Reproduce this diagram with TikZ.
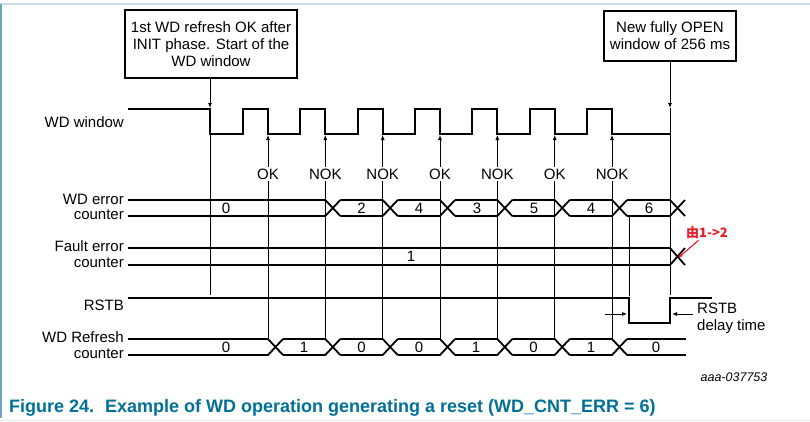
\documentclass[tikz,border=0pt]{standalone}
\usepackage{fontspec}
\setmainfont{Liberation Sans}
\newfontfamily\cjkfont{Noto Sans CJK SC}
\usetikzlibrary{arrows.meta}
\definecolor{capblue}{RGB}{0,112,150}
\definecolor{framel}{RGB}{200,222,230}
\definecolor{frameblue}{RGB}{110,165,190}
\definecolor{annred}{RGB}{230,30,40}
\begin{document}
\begin{tikzpicture}[x=1pt,y=-1pt,
  wave/.style={line width=1.8pt,line join=miter},
  thinline/.style={line width=0.8pt},
  sig/.style={font=\fontsize{15}{17}\selectfont,inner sep=0pt,anchor=east},
  val/.style={font=\fontsize{15}{17}\selectfont,inner sep=1pt},
  evt/.style={font=\fontsize{15}{17}\selectfont,inner sep=1.5pt,fill=white},
  box/.style={draw,line width=1.5pt,align=center,font=\fontsize{15}{17}\selectfont,inner sep=2pt},
  tip/.style={-{Latex[length=5pt,width=4pt]}}]
\useasboundingbox (0,0) rectangle (810,421);
% frame
\draw[framel,line width=1.5pt] (0,4) -- (810,4);
\draw[framel!50,line width=1pt] (0,420) -- (810,420);
\draw[frameblue,line width=2pt] (1,4) -- (1,418);

% signal names
\node[sig] (lwin) at (124,122) {WD window};
\node[sig] (lerr1) at (124,199) {WD error};
\node[sig] (lerr2) at (124,215) {counter};
\node[sig] (lflt1) at (124,246) {Fault error};
\node[sig] (lflt2) at (124,263) {counter};
\node[sig] (lrst) at (124,305) {RSTB};
\node[sig] (lref1) at (124,337) {WD Refresh};
\node[sig] (lref2) at (124,354) {counter};

% boxes
\node[box,minimum width=172pt,minimum height=68pt] (b1) at (211,44)
  {1st WD refresh OK after\\INIT phase. Start of the\\WD window};
\node[box,minimum width=132pt,minimum height=50pt] (b2) at (670,36)
  {New fully OPEN\\window of 256 ms};

% WD window waveform
\draw[wave] (128,109) -- (210,109) -- (210,134)
  \foreach \f in {268,325.3,382.7,440,497.3,554.7,612} {
    -- ({\f-25},134) -- ({\f-25},109) -- (\f,109) -- (\f,134) }
  -- (670,134);

% vertical markers from boxes
\coordinate (t1) at (210,108);
\coordinate (t1b) at (210,295);
\coordinate (t2) at (670,108);
\coordinate (t2b) at (670,295);
\draw[thinline,tip] (b1.south -| t1) -- (t1);
\draw[thinline] (t1) -- (t1b);
\draw[thinline,tip] (b2.south) -- (t2);
\draw[thinline] (t2) -- (t2b);
\coordinate (r1) at (629,216);
\coordinate (r1b) at (629,296);
\draw[thinline] (r1) -- (r1b);

% refresh events
\foreach \f/\t [count=\k] in {268/OK,325.3/NOK,382.7/NOK,440/OK,497.3/NOK,554.7/OK,612/NOK} {
  \coordinate (eb\k) at (\f,339);
  \coordinate (et\k) at (\f,135);
  \draw[thinline,tip] (eb\k) -- (et\k);
  \node[evt] (ev\k) at (\f,174) {\t};
}

% WD error counter bus
\foreach \a/\b in {128/325.3,340.3/382.7,397.7/440,455/497.3,512.3/554.7,569.7/612,627/670} {
  \draw[wave] (\a,200) -- (\b,200) -- ({\b+15},216);
  \draw[wave] (\a,216) -- (\b,216) -- ({\b+15},200);
}
\foreach \x/\v [count=\k] in {226/0,361.5/2,419/4,477/3,534/5,591/4,649/6}
  \node[val] (ve\k) at (\x,208) {\v};

% Fault error counter bus
\draw[wave] (128,248) -- (670,248) -- (685,265);
\draw[wave] (128,265) -- (670,265) -- (685,248);
\node[val] (vf) at (411,256) {1};

% RSTB
\draw[wave] (128,298) -- (629,298) -- (629,323) -- (670,323) -- (670,298) -- (712,298);
\coordinate (d1a) at (605,314);
\coordinate (d1b) at (627,314);
\coordinate (d2a) at (693,314);
\coordinate (d2b) at (672,314);
\draw[thinline,tip] (d1a) -- (d1b);
\draw[thinline,tip] (d2a) -- (d2b);
\node[anchor=west,align=left,inner sep=0pt,font=\fontsize{15}{17}\selectfont] (dly) at (697,318) {RSTB\\delay time};

% WD refresh counter bus
\foreach \a/\b in {128/268,283/325.3,340.3/382.7,397.7/440,455/497.3,512.3/554.7,569.7/612} {
  \draw[wave] (\a,339) -- (\b,339) -- ({\b+15},355);
  \draw[wave] (\a,355) -- (\b,355) -- ({\b+15},339);
}
\draw[wave] (627,339) -- (686,339);
\draw[wave] (627,355) -- (686,355);
\foreach \x/\v [count=\k] in {226/0,304/1,361.5/0,419/0,476/1,533.5/0,591/1,656/0}
  \node[val] (vr\k) at (\x,347) {\v};

% red annotation
\node[text=annred,inner sep=1pt,font=\cjkfont\bfseries\fontsize{13}{15}\selectfont] (ann) at (707,233) {由1->2};
\coordinate (anntip) at (678,258);
\draw[annred,line width=1.1pt,-{Latex[length=5pt,width=4pt]}] (ann) -- (anntip);

% id and caption
\node[font=\itshape\fontsize{12.5}{14}\selectfont,inner sep=0pt] (id) at (734,377) {aaa-037753};
\node[anchor=west,text=capblue,inner sep=0pt,font=\bfseries\fontsize{18}{20}\selectfont] (cap) at (9,408)
  {Figure 24.\hspace{0.6em}Example of WD operation generating a reset (WD\_CNT\_ERR = 6)};
\end{tikzpicture}
\end{document}
